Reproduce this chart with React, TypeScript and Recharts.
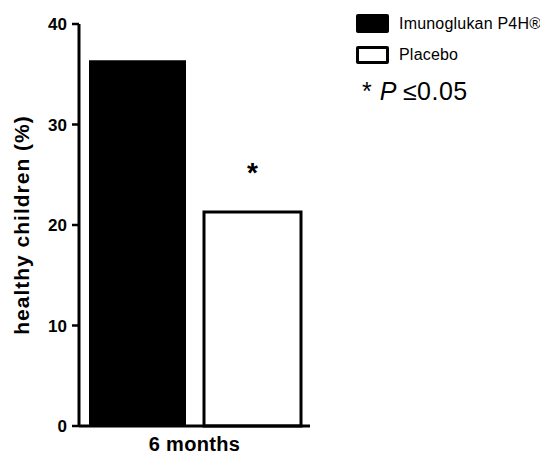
import { Bar, BarChart, LabelList, XAxis, YAxis } from "recharts";

const categories = ["6 months"];
const imunoglukan = [36.4];
const placebo = [21.3];
const yTicks = [0, 10, 20, 30, 40];
const seriesNames = ["Imunoglukan P4H®", "Placebo"];
const significance = ["*"];

const data = categories.map((c, i) => ({
  name: c,
  imunoglukan: imunoglukan[i],
  placebo: placebo[i],
}));

const font = "'Liberation Sans', Arial, sans-serif";

export default function App() {
  return (
    <div style={{ position: "absolute", left: 0, top: 0, width: 540, height: 454, background: "#fff", fontFamily: font, overflow: "hidden" }}>
      <BarChart
        width={540}
        height={454}
        data={data}
        margin={{ top: 24, right: 230, bottom: 0, left: 0 }}
        barGap={18}
        barSize={97}
      >
        <XAxis
          dataKey="name"
          height={28}
          tickLine={false}
          axisLine={{ stroke: "#000", strokeWidth: 3 }}
          tick={{ fill: "#000", fontSize: 20, fontWeight: 700, fontFamily: font, letterSpacing: 0.3 }}
          tickMargin={5}
        />
        <YAxis
          width={79}
          domain={[0, 40]}
          ticks={yTicks}
          tickSize={7}
          tickMargin={5}
          axisLine={{ stroke: "#000", strokeWidth: 3 }}
          tickLine={{ stroke: "#000", strokeWidth: 2.5 }}
          tick={{ fill: "#000", fontSize: 17, fontWeight: 700, fontFamily: font }}
          label={{
            value: "healthy children (%)",
            angle: -90,
            position: "insideLeft",
            offset: 22,
            style: { textAnchor: "middle", fill: "#000", fontSize: 21, fontWeight: 700, fontFamily: font, letterSpacing: 1 },
          }}
        />
        <Bar dataKey="imunoglukan" name={seriesNames[0]} fill="#000" isAnimationActive={false} />
        <Bar
          dataKey="placebo"
          name={seriesNames[1]}
          fill="#fff"
          stroke="#000"
          strokeWidth={3}
          isAnimationActive={false}
        >
          <LabelList
            position="top"
            offset={30}
            valueAccessor={() => significance[0]}
            style={{ fill: "#000", fontSize: 28, fontWeight: 700, fontFamily: font }}
          />
        </Bar>
      </BarChart>
      <div style={{ position: "absolute", left: 356, top: 14, width: 184, whiteSpace: "nowrap", fontSize: 16, color: "#000", letterSpacing: 0.2 }}>
        <div style={{ display: "flex", alignItems: "center", height: 19, marginBottom: 13 }}>
          <span style={{ width: 33, height: 19, background: "#000", borderRadius: 2, marginRight: 10, flexShrink: 0 }} />
          <span>{seriesNames[0]}</span>
        </div>
        <div style={{ display: "flex", alignItems: "center", height: 18 }}>
          <span style={{ width: 27, height: 12, border: "3px solid #000", borderRadius: 2, marginRight: 10, flexShrink: 0 }} />
          <span>{seriesNames[1]}</span>
        </div>
        <div style={{ marginTop: 12, marginLeft: 6, fontSize: 25, lineHeight: "30px", letterSpacing: 0.5 }}>
          * <i style={{ marginRight: 6 }}>P</i>≤0.05
        </div>
      </div>
    </div>
  );
}
